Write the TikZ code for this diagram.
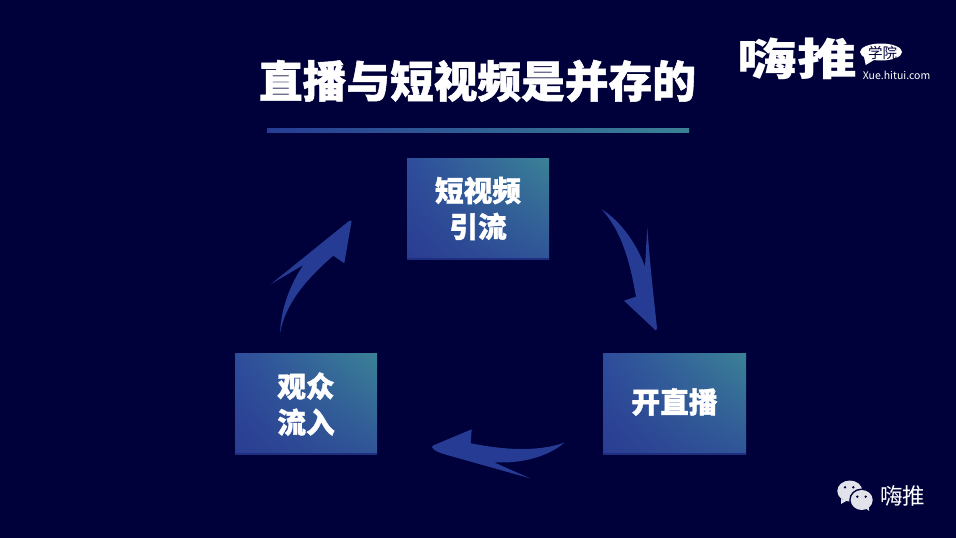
\documentclass[tikz,border=0pt]{standalone}
\usepackage{fontspec}
\usetikzlibrary{shadings}
\newfontfamily\cjk{Noto Sans CJK SC}
\newfontfamily\cjkh[BoldFeatures={FakeBold=1.2}]{Noto Sans CJK SC}
\definecolor{bgc}{HTML}{00003A}
\definecolor{arrowc}{HTML}{263C94}
\definecolor{iconc}{HTML}{E2E2EA}
\definecolor{boxLL}{HTML}{2A3C92}
\definecolor{boxLR}{HTML}{305498}
\definecolor{boxUL}{HTML}{2E4C9C}
\definecolor{boxUR}{HTML}{3A8296}
\definecolor{boxedge}{HTML}{1F2F80}
\tikzset{
 x=1pt,y=-1pt,
 flowbox/.style={anchor=center,text=white,align=center,font=\cjkh\fontsize{28.7}{36}\selectfont\bfseries,inner sep=0pt},
 flowarrow/.style={fill=arrowc,draw=none},
 boxfill/.style={shading=bilinear interpolation,lower left=boxLL,lower right=boxLR,upper left=boxUL,upper right=boxUR},
}
\begin{document}
\begin{tikzpicture}
\useasboundingbox (0,0) rectangle (956,538);
\fill[bgc] (0,0) rectangle (956,538);
% title
\node[text=white,font=\cjkh\fontsize{43.7}{44}\selectfont\bfseries,inner sep=0pt] (title) at (477.5,81) {直播与短视频是并存的};
\shade[left color=arrowc,right color=boxUR] (267,128.5) rectangle (689,132);
% boxes
\shade[boxfill] (407,158) rectangle (549,259);
\shade[boxfill] (603,353) rectangle (746,454);
\shade[boxfill] (235,353) rectangle (377,454);
\fill[boxedge] (407,258) rectangle (549,259.5);
\fill[boxedge] (603,453) rectangle (746,454.5);
\fill[boxedge] (235,453) rectangle (377,454.5);
\node[flowbox] (b1) at (478,208.5) {短视频\\引流};
\node[flowbox] (b2) at (674.5,402) {开直播};
\node[flowbox] (b3) at (306,404) {观众\\流入};
% arrows
\fill[flowarrow] (601.7,209.3) .. controls (622,222) and (637,245) .. (645,266.7) -- (647.3,227.3) .. controls (650,265) and (654,300) .. (657,328) -- (656,330.7) -- (624,300.7) -- (636,296.7) .. controls (630,262) and (622,232) .. (601.7,209.3) -- cycle;
\fill[flowarrow] (564.3,442.7) .. controls (540,451) and (510,451) .. (470.7,443.3) -- (471.7,429.3) -- (433,445.5) -- (432,447.3) .. controls (434,451) and (440,453) .. (447,455) -- (530,478.3) -- (494,462.3) .. controls (525,464) and (550,455) .. (564.3,442.7) -- cycle;
\fill[flowarrow] (280,333.3) .. controls (281,308) and (290,285) .. (303.3,265) -- (271,284) -- (349,221) -- (351.7,220.7) -- (344.3,263.3) -- (333.3,255.7) .. controls (305,280) and (285,305) .. (280,333.3) -- cycle;
% logo
\node[text=white,font=\cjk\fontsize{44}{44}\selectfont\bfseries,inner sep=0pt] (logo) at (797.5,59) {\scalebox{1.36}[1]{嗨推}};
\fill[white] (881,52) ellipse (21 and 8.5);
\fill[white] (864,57) -- (865.7,65) -- (874,60) -- cycle;
\node[text=bgc,font=\cjk\fontsize{14.5}{14.5}\selectfont,inner sep=0pt] (xue) at (882.5,52.5) {学院};
\node[text=white,font=\cjk\fontsize{10.5}{11}\selectfont,inner sep=0pt] (site) at (896.5,75) {Xue.hitui.com};
% wechat
\fill[iconc] (849.8,491) ellipse (12.5 and 10.5);
\fill[iconc] (841,499) -- (841,504) -- (847,500.5) -- cycle;
\fill[bgc] (861.7,500) ellipse (12.5 and 11.5);
\fill[iconc] (861.7,500) ellipse (11 and 10);
\fill[iconc] (865,508) -- (869.3,511) -- (868.5,506) -- cycle;
\fill[bgc] (845,487.3) circle (1.3);
\fill[bgc] (853.3,487.3) circle (1.3);
\fill[bgc] (857.3,496.7) circle (1.3);
\fill[bgc] (865.7,496.7) circle (1.3);
\node[text=white,font=\cjk\fontsize{22.5}{22.5}\selectfont,inner sep=0pt] (wx) at (902.5,496) {嗨推};
\end{tikzpicture}
\end{document}
